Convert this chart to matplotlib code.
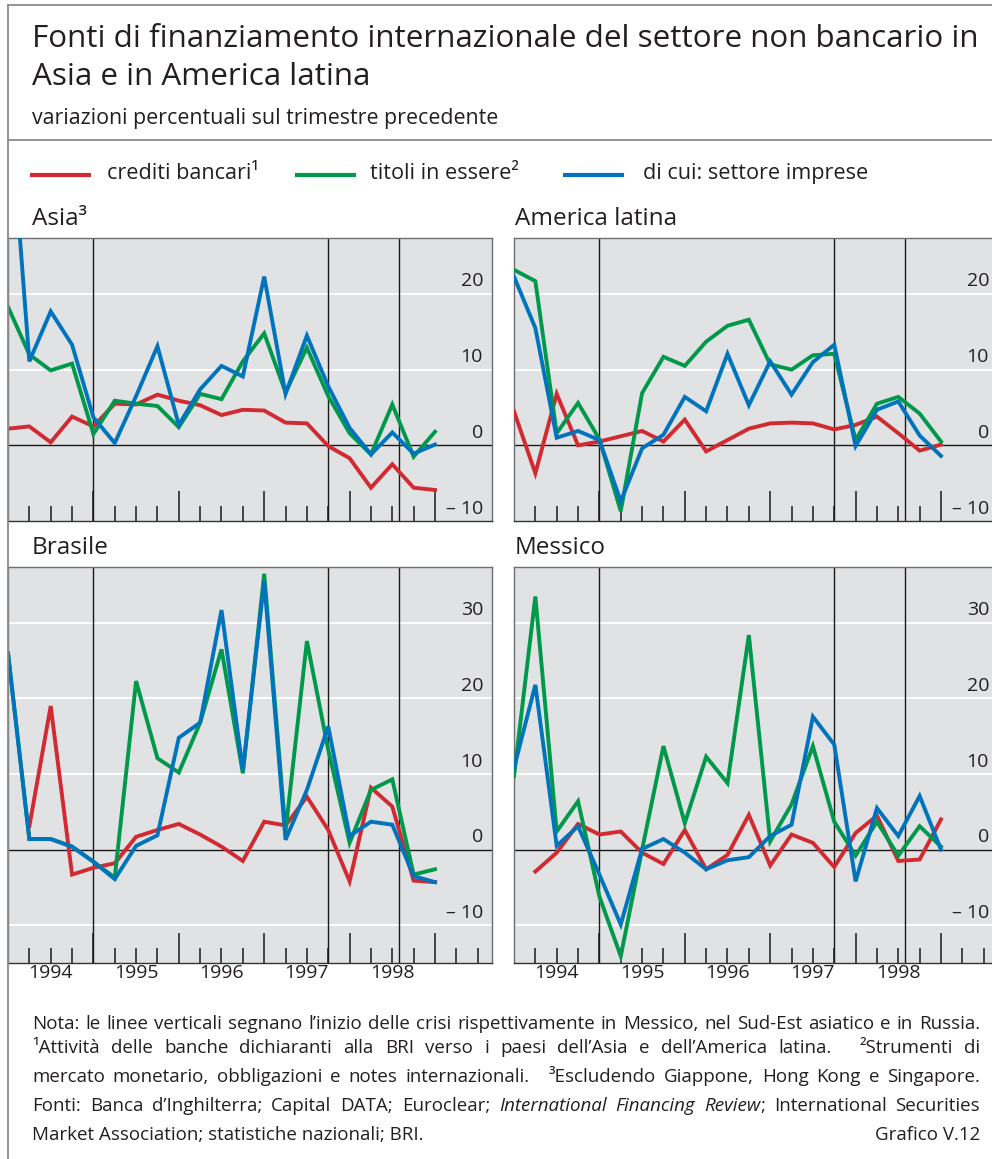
import numpy as np
import matplotlib
matplotlib.use("Agg")
import matplotlib.pyplot as plt
from matplotlib.lines import Line2D
from matplotlib.transforms import blended_transform_factory, ScaledTranslation

plt.rcParams['font.family'] = ['Open Sans', 'DejaVu Sans']

# ---------------------------------------------------------------- data
# quarterly observations, position 0 = start of 1994, one unit per quarter
quarters = np.arange(21)
years = ['1994', '1995', '1996', '1997', '1998']
year_pos = [2, 6, 10, 14, 18]
crisis_pos = [4, 15, 18.33]          # Messico, Sud-Est asiatico, Russia

series_names = ['crediti bancari\u00b9', 'titoli in essere\u00b2', 'di cui: settore imprese']

asia_bank = [2.2, 2.5, 0.4, 3.8, 2.5, 5.5, 5.4, 6.7, 5.9, 5.3, 4.0, 4.7, 4.6, 3.0,
             2.9, -0.1, -1.7, -5.6, -2.5, -5.6, -5.9]
asia_sec = [18.3, 12.0, 9.9, 10.8, 1.5, 5.9, 5.5, 5.2, 2.4, 6.8, 6.1, 11.1, 14.8, 7.0,
            12.9, 6.5, 1.6, -1.2, 5.4, -1.5, 1.8]
asia_corp = [48.0, 11.1, 17.7, 13.3, 3.7, 0.3, 6.5, 13.1, 2.7, 7.4, 10.5, 9.1, 22.3, 6.8,
             14.5, 7.8, 2.3, -1.2, 1.7, -1.1, 0.1]

latam_bank = [4.5, -3.7, 6.8, 0.0, 0.5, 1.2, 1.9, 0.5, 3.4, -0.8, 0.7, 2.2, 2.9, 3.0,
              2.9, 2.1, 2.7, 3.8, 1.6, -0.7, 0.1]
latam_sec = [23.2, 21.7, 1.6, 5.6, 0.8, -8.7, 6.9, 11.7, 10.5, 13.7, 15.8, 16.6, 10.7, 10.0,
             11.9, 12.1, 0.7, 5.5, 6.4, 4.2, 0.5]
latam_corp = [22.3, 15.5, 1.0, 1.9, 0.7, -7.4, -0.4, 1.4, 6.4, 4.5, 12.1, 5.3, 11.1, 6.7,
              11.0, 13.3, -0.1, 4.7, 5.8, 1.3, -1.4]

brazil_bank = [np.nan, 3.1, 19.0, -3.3, -2.4, -1.8, 1.7, 2.6, 3.4, 2.0, 0.4, -1.5, 3.7, 3.2,
               7.0, 2.6, -4.2, 8.2, 5.7, -4.1, -4.3]
brazil_sec = [26.0, 1.4, 1.4, 0.4, -1.6, -3.7, 22.3, 12.1, 10.2, 16.8, 26.5, 10.1, 36.5, 2.4,
              27.6, 13.2, 0.9, 7.9, 9.3, -3.3, -2.6]
brazil_corp = [26.0, 1.4, 1.4, 0.4, -1.6, -3.9, 0.5, 1.9, 14.8, 16.8, 31.7, 10.5, 35.5, 1.3,
               7.9, 16.3, 1.8, 3.7, 3.3, -3.5, -4.3]

mexico_bank = [np.nan, -2.9, -0.4, 3.4, 2.0, 2.4, -0.4, -1.9, 2.6, -2.6, -0.7, 4.6, -2.1, 2.0,
               0.9, -2.3, 2.2, 4.5, -1.5, -1.3, 4.0]
mexico_sec = [9.7, 33.5, 2.4, 6.4, -6.2, -14.1, 0.0, 13.7, 3.5, 12.3, 8.8, 28.4, 1.1, 6.0,
              13.7, 3.7, -0.8, 3.7, -0.8, 3.1, 0.4]
mexico_corp = [10.8, 21.8, 0.5, 3.1, -3.3, -9.9, 0.1, 1.4, -0.4, -2.6, -1.4, -1.0, 1.8, 3.3,
               17.6, 13.9, -4.2, 5.5, 1.8, 7.1, 0.0]

# ---------------------------------------------------------------- style
W, H = 992, 1159
RED, GREEN, BLUE = '#d12a31', '#00984a', '#0073bd'
PANEL_BG = '#e1e2e4'
TEXT = '#231f20'
FRAME = '#6d6e71'


def fx(px):
    return px / W


def fy(py):
    return 1 - py / H


fig = plt.figure(figsize=(W / 100, H / 100), dpi=100)
fig.patch.set_facecolor('white')
renderer = fig.canvas.get_renderer()


def fitted_size(text, width_px, start=14.0, style='normal'):
    """Font size at which `text` spans `width_px` pixels."""
    t = fig.text(0, 0, text, fontsize=start, style=style)
    w = t.get_window_extent(renderer).width
    t.remove()
    return start * width_px / w


# outer frame and separator
for xs, ys in [((8, 1000), (5, 5)), ((8, 8), (5, 1159)), ((8, 1000), (140, 140))]:
    fig.add_artist(Line2D([fx(x) for x in xs], [fy(y) for y in ys],
                          color='#8a8b8d', lw=1.3, transform=fig.transFigure))

# titles
title_lines = ['Fonti di finanziamento internazionale del settore non bancario in',
               'Asia e in America latina']
subtitle = 'variazioni percentuali sul trimestre precedente'
title_size = min(fitted_size(title_lines[0], 952), 23)
fig.text(fx(32), fy(47), title_lines[0], fontsize=title_size, color=TEXT,
         va='baseline', ha='left')
fig.text(fx(32), fy(85), title_lines[1], fontsize=title_size, color=TEXT,
         va='baseline', ha='left')
fig.text(fx(32), fy(124), subtitle, fontsize=min(fitted_size(subtitle, 466), 15.5),
         color=TEXT, va='baseline', ha='left')

# legend
legend_size = min(fitted_size(series_names[2], 225), 16)
legend_items = [(RED, 30, 107), (GREEN, 295, 370), (BLUE, 563, 643)]
for (col, lx, tx), name in zip(legend_items, series_names):
    fig.add_artist(Line2D([fx(lx), fx(lx + 61)], [fy(175), fy(175)], color=col, lw=3,
                          solid_capstyle='butt', transform=fig.transFigure))
    fig.text(fx(tx), fy(179), name, fontsize=legend_size, color=TEXT,
             va='baseline', ha='left')

panel_title_size = min(fitted_size('America latina', 162), 18)

# ---------------------------------------------------------------- panels
panels = [
    ('Asia\u00b3', (8, 238, 484, 283), (-10, 27.4), [20, 10], [20, 10, 0, -10], 20,
     asia_bank, asia_sec, asia_corp, False),
    ('America latina', (514, 238, 484, 283), (-10, 27.4), [20, 10], [20, 10, 0, -10], 20,
     latam_bank, latam_sec, latam_corp, False),
    ('Brasile', (8, 567, 484, 396), (-15, 37.4), [30, 20, 10, -10], [30, 20, 10, 0, -10], 22,
     brazil_bank, brazil_sec, brazil_corp, True),
    ('Messico', (514, 567, 484, 396), (-15, 37.4), [30, 20, 10, -10], [30, 20, 10, 0, -10], 22,
     mexico_bank, mexico_sec, mexico_corp, True),
]

AXIS_SIZE = 14

for (title, (px, py, pw, ph), ylim, grid_vals, label_vals, last_tick,
     bank, sec, corp, show_years) in panels:
    ax = fig.add_axes([fx(px), fy(py + ph), pw / W, ph / H])
    ax.set_facecolor(PANEL_BG)
    ax.set_xlim(0, 22.67)
    ax.set_ylim(*ylim)
    for s in ax.spines.values():
        s.set_color(FRAME)
        s.set_linewidth(1.0)
    ax.spines['bottom'].set_color('#333333')

    for g in grid_vals:
        ax.axhline(g, color='white', lw=1.3, zorder=1)
    ax.axhline(0, color='#1a1a1a', lw=1.0, zorder=2)
    for c in crisis_pos:
        ax.axvline(c, color='#1a1a1a', lw=1.0, zorder=2)

    # quarter ticks (long ticks mark the years) drawn inside the panel
    qt = np.arange(1, last_tick + 1)
    ax.set_xticks([q for q in qt if q % 4 == 0])
    ax.set_xticks([q for q in qt if q % 4 != 0], minor=True)
    ax.tick_params(axis='x', which='major', direction='in', length=21.5, width=1.1,
                   color='#1a1a1a', labelbottom=False)
    ax.tick_params(axis='x', which='minor', direction='in', length=10.8, width=1.1,
                   color='#1a1a1a', pad=0.5, labelsize=AXIS_SIZE, labelcolor=TEXT)
    minor_pos = [q for q in qt if q % 4 != 0]
    if show_years:
        ax.set_xticklabels([years[year_pos.index(q)] if q in year_pos else '' for q in minor_pos],
                           minor=True)
    else:
        ax.set_xticklabels(['' for _ in minor_pos], minor=True)
    ax.set_yticks([])

    # value labels on the right, sitting above their grid lines
    trans = blended_transform_factory(ax.transAxes, ax.transData) + \
        ScaledTranslation(-9 / 100, 7.5 / 100, fig.dpi_scale_trans)
    for v in label_vals:
        lab = str(v) if v >= 0 else '\u2013 ' + str(abs(v))
        ax.text(1.0, v, lab, transform=trans, ha='right', va='baseline',
                fontsize=AXIS_SIZE, color=TEXT, zorder=3)

    ax.plot(quarters, bank, color=RED, lw=2.8, zorder=4, solid_joinstyle='miter')
    ax.plot(quarters, sec, color=GREEN, lw=2.8, zorder=5, solid_joinstyle='miter')
    ax.plot(quarters, corp, color=BLUE, lw=2.8, zorder=6, solid_joinstyle='miter')

    fig.text(fx(px + 24 if px < 100 else px + 1), fy(py - 13), title,
             fontsize=panel_title_size, color=TEXT, va='baseline', ha='left')

# ---------------------------------------------------------------- notes
def words(s, style='normal', first_gap=1):
    return [(w, style, first_gap if i == 0 else 1) for i, w in enumerate(s.split(' '))]


note_lines = [
    (words('Nota: le linee verticali segnano l\u2019inizio delle crisi rispettivamente '
           'in Messico, nel Sud-Est asiatico e in Russia.', first_gap=0), 1029),
    (words('\u00b9Attivit\u00e0 delle banche dichiaranti alla BRI verso i paesi '
           'dell\u2019Asia e dell\u2019America latina.', first_gap=0)
     + words('\u00b2Strumenti di', first_gap=2.5), 1053),
    (words('mercato monetario, obbligazioni e notes internazionali.', first_gap=0)
     + words('\u00b3Escludendo Giappone, Hong Kong e Singapore.', first_gap=2.5), 1082),
    (words('Fonti: Banca d\u2019Inghilterra; Capital DATA; Euroclear;', first_gap=0)
     + words('International Financing Review', style='italic')
     + [(';', 'normal', 0)]
     + words('International Securities'), 1111),
]


def natural_width(parts, size):
    total = 0.0
    for i, (t, st, g) in enumerate(parts):
        tt = fig.text(0, 0, t, fontsize=size, style=st)
        total += tt.get_window_extent(renderer).width
        tt.remove()
        if i > 0:
            total += g * 0.26 * size * 100 / 72
    return total


NOTE_SIZE = 12.5
scale = min(935 / natural_width(note_lines[0][0], NOTE_SIZE),
            min(946 / natural_width(p, NOTE_SIZE) for p, _ in note_lines))
NOTE_SIZE = min(NOTE_SIZE * scale, 13.5)


def justified_line(parts, y_px, x0=32, x1=980):
    """parts: list of (text, style, gap_weight_before)."""
    texts = [fig.text(0, fy(y_px), t, fontsize=NOTE_SIZE, style=st, color=TEXT,
                      va='baseline', ha='left') for t, st, _ in parts]
    widths = [t.get_window_extent(renderer).width for t in texts]
    weights = [g for _, _, g in parts[1:]]
    free = (x1 - x0) - sum(widths)
    unit = free / sum(weights)
    x = x0
    for i, t in enumerate(texts):
        if i > 0:
            x += weights[i - 1] * unit
        t.set_x(fx(x))
        x += widths[i]


for parts, y in note_lines:
    justified_line(parts, y)

fig.text(fx(32), fy(1140), 'Market Association; statistiche nazionali; BRI.',
         fontsize=NOTE_SIZE, color=TEXT, va='baseline', ha='left')
fig.text(fx(980), fy(1140), 'Grafico V.12', fontsize=NOTE_SIZE, color=TEXT,
         va='baseline', ha='right')

fig.savefig('out.png', dpi=100, facecolor='white')
